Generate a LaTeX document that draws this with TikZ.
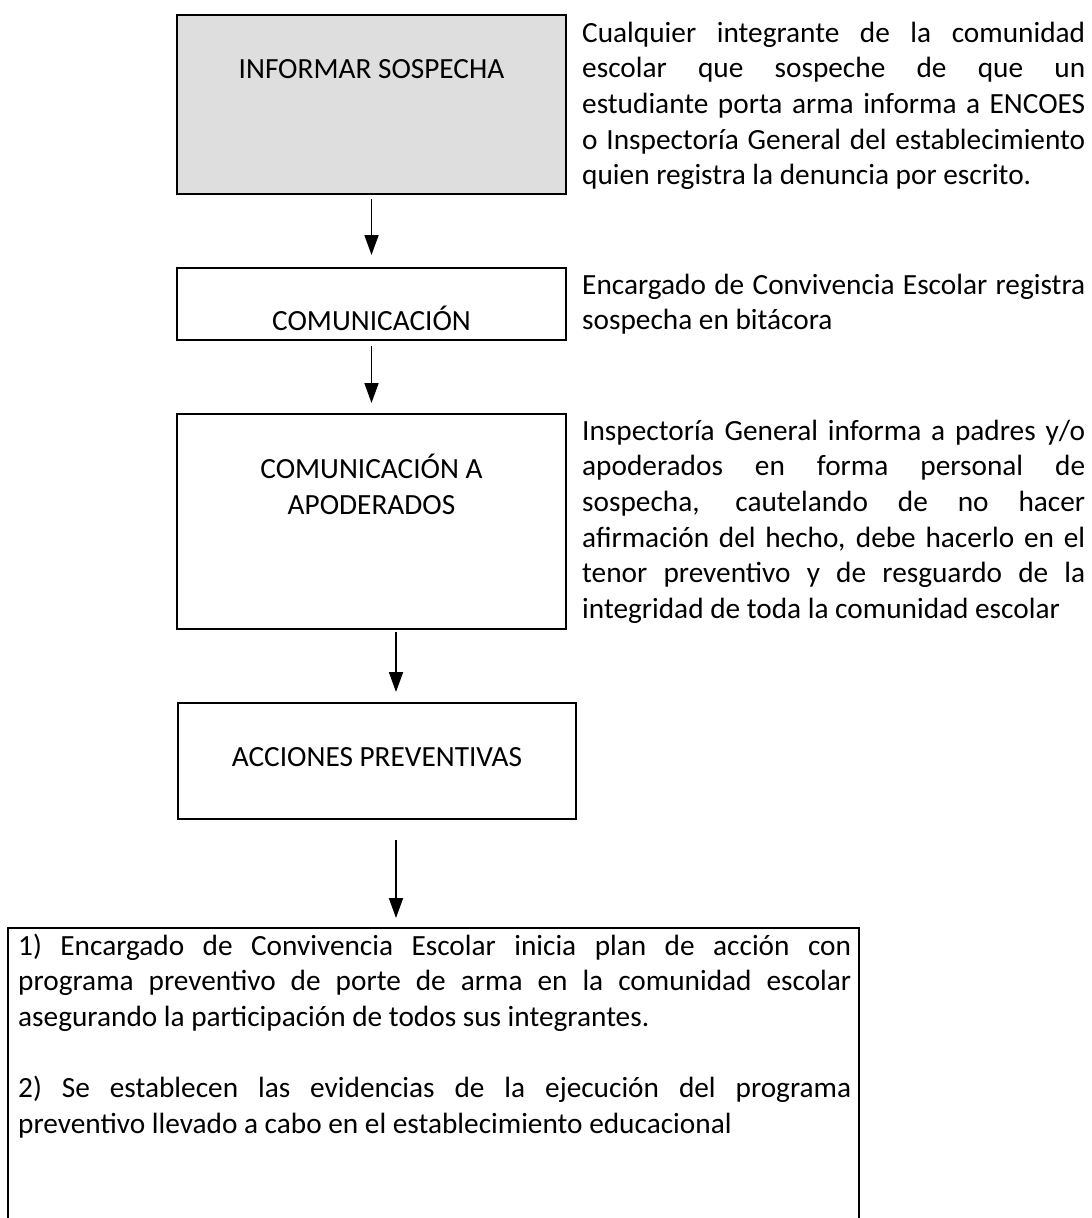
\documentclass[tikz,border=0pt]{standalone}
\usepackage{fontspec}
\setmainfont{Carlito}
\usetikzlibrary{arrows.meta}
\definecolor{boxgray}{HTML}{DEDEDE}
\begin{document}
\begin{tikzpicture}[x=1pt,y=-1pt,
  box/.style={draw,line width=2pt,inner sep=0pt,anchor=north west},
  arr/.style={line width=1.8pt,-{Triangle[length=20pt,width=14pt]}},
  txt/.style={font=\fontsize{29.3}{35.7}\selectfont,inner sep=0pt},
  lbl/.style={txt,anchor=base},
  side/.style={txt,anchor=base west}]
\path[use as bounding box] (0,0) rectangle (1092,1218);
\clip (0,0) rectangle (1092,1218);
% boxes
\node[box,fill=boxgray,minimum width=389pt,minimum height=179pt] (b1) at (176,14) {};
\node[box,minimum width=389pt,minimum height=72pt] (b2) at (176,267) {};
\node[box,minimum width=389pt,minimum height=215pt] (b3) at (176,413) {};
\node[box,minimum width=398pt,minimum height=116pt] (b4) at (177,702) {};
\node[box,minimum width=851pt,minimum height=330pt] (b5) at (7,927) {};
% box texts
\node[lbl] (t1) at ([yshift=-64pt]b1.north) {INFORMAR SOSPECHA};
\node[lbl] (t2) at ([yshift=-63pt]b2.north) {COMUNICACIÓN};
\node[lbl] (t3) at ([yshift=-65.5pt]b3.north) {\parbox[t]{380pt}{\centering COMUNICACIÓN A\\APODERADOS}};
\node[lbl] (t4) at ([yshift=-64.5pt]b4.north) {ACCIONES PREVENTIVAS};
\node[side] (t5) at ([xshift=11pt,yshift=-28pt]b5.north west) {\parbox[t]{833pt}{%
1) Encargado de Convivencia Escolar inicia plan de acción con\linebreak
programa preventivo de porte de arma en la comunidad escolar\linebreak
asegurando la participación de todos sus integrantes.\par\vspace{35.7pt}
2) Se establecen las evidencias de la ejecución del programa\linebreak
preventivo llevado a cabo en el establecimiento educacional}};
% side texts
\node[side] (s1) at ([xshift=15pt,yshift=-28pt]b1.north east) {\parbox[t]{503pt}{%
Cualquier integrante de la comunidad\linebreak
escolar que sospeche de que un\linebreak
estudiante porta arma informa a ENCOES\linebreak
o Inspectoría General del establecimiento\linebreak
quien registra la denuncia por escrito.}};
\node[side] (s2) at ([xshift=15pt,yshift=-27pt]b2.north east) {\parbox[t]{503pt}{%
Encargado de Convivencia Escolar registra\linebreak
sospecha en bitácora}};
\node[side] (s3) at ([xshift=15pt,yshift=-27pt]b3.north east) {\parbox[t]{503pt}{%
Inspectoría General informa a padres y/o\linebreak
apoderados en forma personal de\linebreak
sospecha, cautelando de no hacer\linebreak
afirmación del hecho, debe hacerlo en el\linebreak
tenor preventivo y de resguardo de la\linebreak
integridad de toda la comunidad escolar}};
% arrows
\draw[arr,shorten <=4pt,shorten >=12pt] (b1.south) -- (b2.north);
\draw[arr,shorten <=5pt,shorten >=10pt] (b2.south) -- (b3.north);
\draw[arr,shorten <=2pt,shorten >=10pt] ([xshift=24.5pt]b3.south) -- ([xshift=19pt]b4.north);
\draw[arr,shorten <=20pt,shorten >=9pt] ([xshift=19pt]b4.south) -- ([xshift=-37.5pt]b5.north);
\end{tikzpicture}
\end{document}
